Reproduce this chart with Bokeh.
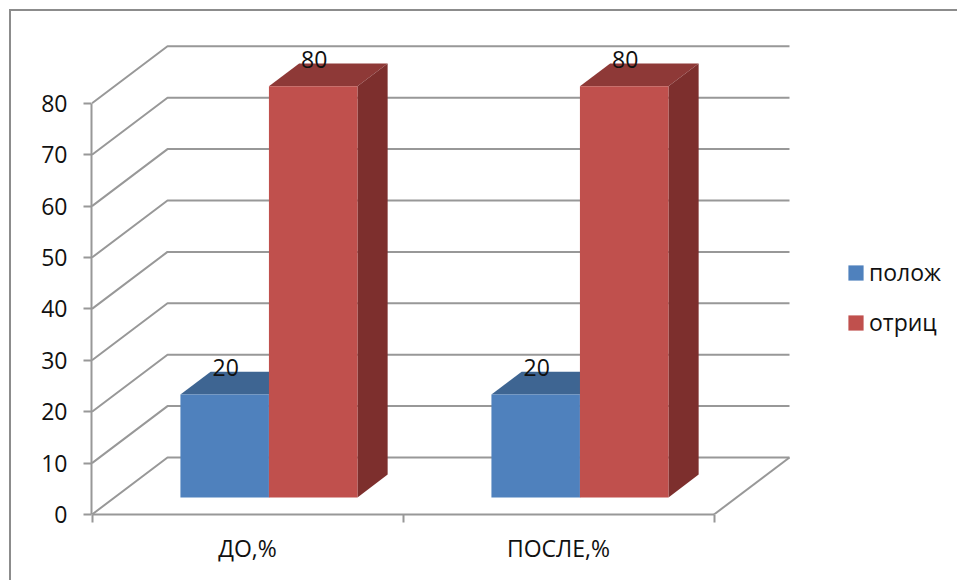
from bokeh.core.properties import value
from bokeh.embed import file_html
from bokeh.models import ColumnDataSource, FixedTicker, Legend, LegendItem, Range1d
from bokeh.plotting import figure
from bokeh.resources import INLINE

categories = ["ДО,%", "ПОСЛЕ,%"]
series_names = ["полож", "отриц"]
pos_values = [20, 20]
neg_values = [80, 80]
y_ticks = [0, 10, 20, 30, 40, 50, 60, 70, 80]

FONT = "Open Sans"
GRID = "#989898"
INK = "#111111"
EDGE = "#8c8c8c"

# Pixel size of one category and one value unit on the front plane.
UNIT_X = 311
UNIT_Y = 5.14

# Oblique projection: moving one full depth unit shifts a point along both axes.
DEPTH_X = 75.5 / UNIT_X
DEPTH_Y = 57 / UNIT_Y
BAR_LEFT = 0.2115
BAR_WIDTH = 0.2846
DEPTH_NEAR = 0.3
DEPTH_FAR = 0.7


def project(x, v, d):
    return x + d * DEPTH_X, v + d * DEPTH_Y


def bar_faces(x0, x1, v):
    a = [project(x0, 0, DEPTH_NEAR), project(x1, 0, DEPTH_NEAR),
         project(x1, v, DEPTH_NEAR), project(x0, v, DEPTH_NEAR)]
    top = [project(x0, v, DEPTH_NEAR), project(x1, v, DEPTH_NEAR),
           project(x1, v, DEPTH_FAR), project(x0, v, DEPTH_FAR)]
    side = [project(x1, 0, DEPTH_NEAR), project(x1, 0, DEPTH_FAR),
            project(x1, v, DEPTH_FAR), project(x1, v, DEPTH_NEAR)]
    return a, top, side


# The chart-area border shows only its top and left edges, and it lies outside
# the plot frame, so it is painted as the page element's background.
edge = f"linear-gradient({EDGE},{EDGE})"
border_css = (f"{edge} 8.5px 9px / 100% 2px no-repeat, "
              f"{edge} 8.5px 9px / 2px 100% no-repeat, white")

p = figure(width=957, height=580, output_backend="svg", toolbar_location=None,
           x_range=Range1d(-0.5 / UNIT_X, 865.5 / UNIT_X),
           y_range=Range1d(0, 504 / UNIT_Y),
           min_border_left=91, min_border_right=0, min_border_top=10,
           min_border_bottom=66, background_fill_color=None,
           border_fill_color=None, outline_line_color=None,
           styles={"background": border_css})
p.grid.visible = False

# Wall gridlines and the floor outline.
wall_xs, wall_ys = [], []
for v in y_ticks:
    fx, fy = project(0, v, 0)
    bx, by = project(0, v, 1)
    ex, ey = project(2, v, 1)
    wall_xs.append([fx, bx, ex])
    wall_ys.append([fy, by, ey])
fx, fy = project(2, 0, 0)
bx, by = project(2, 0, 1)
wall_xs.append([fx, bx])
wall_ys.append([fy, by])
p.multi_line(wall_xs, wall_ys, line_color=GRID, line_width=2)

# Bars are painted back to front, group by group.
colours = [("#4F81BD", "#3E6592", "#375A85"), ("#C0504D", "#8E3937", "#7D2F2D")]
front_renderers = {}
for g in range(len(categories)):
    for s, vals in enumerate([pos_values, neg_values]):
        x0 = g + BAR_LEFT + s * BAR_WIDTH
        front, top, side = bar_faces(x0, x0 + BAR_WIDTH, vals[g])
        front_col, top_col, side_col = colours[s]
        for face, col in ((top, top_col), (side, side_col)):
            p.patch([q[0] for q in face], [q[1] for q in face],
                    fill_color=col, line_color=None)
        r = p.patch([q[0] for q in front], [q[1] for q in front],
                    fill_color=front_col, line_color=None)
        front_renderers.setdefault(s, r)

# Value labels sit above the front edge of each bar.
label_x, label_y, label_t = [], [], []
for g in range(len(categories)):
    for s, vals in enumerate([pos_values, neg_values]):
        cx = g + BAR_LEFT + (s + 0.5) * BAR_WIDTH
        lx, ly = project(cx, vals[g], DEPTH_NEAR)
        label_x.append(lx)
        label_y.append(ly)
        label_t.append(str(vals[g]))
p.text(x="x", y="y", text="t",
       source=ColumnDataSource(dict(x=label_x, y=label_y, t=label_t)),
       text_align="center", text_baseline="alphabetic", x_offset=1, y_offset=-27,
       text_color=INK, text_font=value(FONT), text_font_size="23px")

yax = p.yaxis[0]
yax.ticker = FixedTicker(ticks=y_ticks)
yax.bounds = (0, 80)
yax.axis_line_color = GRID
yax.axis_line_width = 2
yax.major_tick_line_color = GRID
yax.major_tick_line_width = 2
yax.major_tick_out = 8
yax.major_tick_in = 0
yax.minor_tick_line_color = None
yax.major_label_standoff = 16
yax.major_label_text_font = FONT
yax.major_label_text_font_size = "23px"
yax.major_label_text_color = INK

xax = p.xaxis[0]
xax.ticker = FixedTicker(ticks=[0.5, 1.5], minor_ticks=[0, 1, 2])
xax.bounds = (0, 2)
xax.major_label_overrides = {0.5: categories[0], 1.5: categories[1]}
xax.axis_line_color = GRID
xax.axis_line_width = 2
xax.major_tick_line_color = None
xax.minor_tick_line_color = GRID
xax.minor_tick_line_width = 2
xax.minor_tick_out = 8
xax.minor_tick_in = 0
xax.major_label_standoff = 9
xax.major_label_text_font = FONT
xax.major_label_text_font_size = "23px"
xax.major_label_text_color = INK

legend = Legend(items=[LegendItem(label=series_names[i], renderers=[front_renderers[i]])
                       for i in range(2)],
                location=(755, 176), orientation="vertical",
                glyph_width=19, glyph_height=19, spacing=18, padding=0, margin=0,
                label_standoff=4, label_text_font=FONT, label_text_font_size="23px",
                label_text_color=INK, border_line_color=None,
                background_fill_alpha=0, label_height=30)
p.add_layout(legend)

open("out.html", "w").write(file_html(p, INLINE))
